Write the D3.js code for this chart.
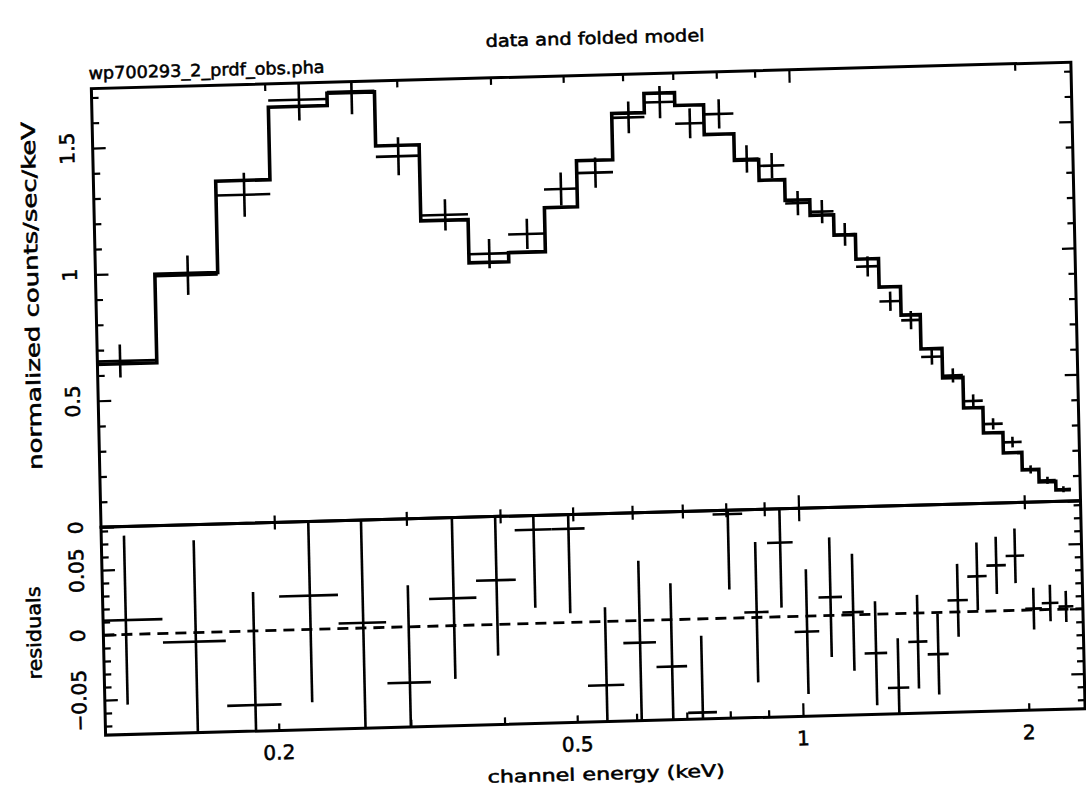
<!DOCTYPE html>
<html>
<head>
<meta charset="utf-8">
<script src="https://cdn.jsdelivr.net/npm/d3@7"></script>
<style>
  body { margin: 0; background: #fff; }
  text { font-family: "DejaVu Sans", sans-serif; fill: #000; stroke: #000; stroke-width: 0.55px; }
</style>
</head>
<body>
<svg width="1086" height="789"></svg>
<script>
// channel bin edges (keV), one more than the number of bins
var chanEdges = [0.111, 0.141, 0.171, 0.202, 0.242, 0.280, 0.320, 0.370, 0.418, 0.468, 0.518,
                 0.579, 0.640, 0.703, 0.768, 0.841, 0.906, 0.980, 1.057, 1.136, 1.213, 1.300,
                 1.388, 1.472, 1.570, 1.671, 1.773, 1.882, 1.992, 2.096, 2.206, 2.309];
// folded model, counts/sec/keV
var modelRate = [0.644, 0.994, 1.356, 1.643, 1.692, 1.478, 1.177, 1.006, 1.042, 1.216, 1.398,
                 1.581, 1.657, 1.606, 1.488, 1.383, 1.301, 1.219, 1.157, 1.076, 0.979, 0.866,
                 0.753, 0.617, 0.500, 0.379, 0.278, 0.197, 0.128, 0.079, 0.045];
// observed data and 1 sigma errors
var dataRate = [0.655, 0.987, 1.299, 1.669, 1.696, 1.435, 1.198, 1.040, 1.114, 1.288, 1.349,
                1.564, 1.621, 1.534, 1.568, 1.387, 1.358, 1.207, 1.171, 1.078, 0.949, 0.809,
                0.732, 0.585, 0.509, 0.406, 0.313, 0.239, 0.129, 0.084, 0.047];
var dataErr = [0.065, 0.078, 0.087, 0.082, 0.090, 0.075, 0.062, 0.058, 0.060, 0.065, 0.060,
               0.063, 0.064, 0.059, 0.058, 0.054, 0.050, 0.048, 0.046, 0.045, 0.040, 0.038,
               0.036, 0.031, 0.028, 0.026, 0.022, 0.021, 0.016, 0.014, 0.012];
// residuals (data - model)
var resid = [0.011, -0.007, -0.057, 0.026, 0.004, -0.043, 0.021, 0.034, 0.072, 0.072, -0.049,
             -0.017, -0.036, -0.072, 0.080, 0.004, 0.057, -0.012, 0.014, 0.002, -0.030, -0.057,
             -0.022, -0.032, 0.009, 0.027, 0.035, 0.042, 0.001, 0.005, 0.002];

// ticks
var xMajor = [1];
var xMinor = [0.2, 0.3, 0.4, 0.5, 0.6, 0.7, 0.8, 0.9, 2];
var xLabels = [0.2, 0.5, 1, 2];
var topMajorY = [0, 0.5, 1, 1.5];
var topMinorY = [0.1, 0.2, 0.3, 0.4, 0.6, 0.7, 0.8, 0.9, 1.1, 1.2, 1.3, 1.4, 1.6, 1.7];
var resMajorY = [-0.05, 0, 0.05];
var resMinorY = [-0.07, -0.06, -0.04, -0.03, -0.02, -0.01, 0.01, 0.02, 0.03, 0.04, 0.06, 0.07, 0.08];

var left = 98.5, right = 1078,
    topY = 75.5, midY = 514, botY = 722;

var x = d3.scaleLog().domain([0.1175, 2.377]).range([left, right]);
var yTop = d3.scaleLinear().domain([0, 1.735]).range([midY, topY]);
var yRes = d3.scaleLinear().domain([-0.077, 0.083]).range([botY, midY]);

var svg = d3.select("svg");
// the original is a slightly skewed scan, so tilt everything a little
var g = svg.append("g").attr("transform", "matrix(1,-0.027,0.022,1,-8.8,15.8)");

var defs = g.append("defs");
defs.append("clipPath").attr("id", "clipTop").append("rect")
    .attr("x", left).attr("y", topY).attr("width", right - left).attr("height", midY - topY);
defs.append("clipPath").attr("id", "clipRes").append("rect")
    .attr("x", left).attr("y", midY).attr("width", right - left).attr("height", botY - midY);

function drawAxis(axisGen, tx, ty) {
    var a = g.append("g")
        .attr("transform", "translate(" + tx + "," + ty + ")")
        .call(axisGen);
    a.select(".domain").remove();
    a.selectAll("text").remove();
    a.selectAll("line").attr("stroke", "#000").attr("stroke-width", 2.2);
}

// ticks, all pointing into the frames
[[topMajorY, 13], [topMinorY, 7]].forEach(function(t) {
    drawAxis(d3.axisLeft(yTop).tickValues(t[0]).tickSize(-t[1]), left, 0);
    drawAxis(d3.axisRight(yTop).tickValues(t[0]).tickSize(-t[1]), right, 0);
});
[[resMajorY, 13], [resMinorY, 7]].forEach(function(t) {
    drawAxis(d3.axisLeft(yRes).tickValues(t[0]).tickSize(-t[1]), left, 0);
    drawAxis(d3.axisRight(yRes).tickValues(t[0]).tickSize(-t[1]), right, 0);
});
[[xMajor, 13], [xMinor, 7]].forEach(function(t) {
    drawAxis(d3.axisTop(x).tickValues(t[0]).tickSize(-t[1]), 0, topY);
    drawAxis(d3.axisBottom(x).tickValues(t[0]).tickSize(-t[1]), 0, midY);
    drawAxis(d3.axisTop(x).tickValues(t[0]).tickSize(-t[1]), 0, midY);
    drawAxis(d3.axisBottom(x).tickValues(t[0]).tickSize(-t[1]), 0, botY);
});

// frames
g.append("rect").attr("x", left).attr("y", topY)
    .attr("width", right - left).attr("height", midY - topY)
    .attr("fill", "none").attr("stroke", "#000").attr("stroke-width", 3);
g.append("rect").attr("x", left).attr("y", midY)
    .attr("width", right - left).attr("height", botY - midY)
    .attr("fill", "none").attr("stroke", "#000").attr("stroke-width", 3);

var bins = modelRate.map(function(m, i) {
    var lo = chanEdges[i], hi = chanEdges[i + 1];
    return {lo: lo, hi: hi, mid: (lo + hi) / 2, model: m,
            data: dataRate[i], err: dataErr[i], res: resid[i]};
});

// top panel: model histogram + data crosses
var topG = g.append("g").attr("clip-path", "url(#clipTop)");
var stepPts = bins.map(function(b) { return [b.lo, b.model]; });
stepPts.push([bins[bins.length - 1].hi, bins[bins.length - 1].model]);
topG.append("path")
    .attr("d", d3.line()
        .x(function(d) { return x(d[0]); })
        .y(function(d) { return yTop(d[1]); })
        .curve(d3.curveStepAfter)(stepPts))
    .attr("fill", "none").attr("stroke", "#000").attr("stroke-width", 3.6);

function crosses(sel, yScale, key) {
    sel.selectAll("line.h").data(bins).enter().append("line")
        .attr("x1", function(d) { return x(d.lo); })
        .attr("x2", function(d) { return x(d.hi); })
        .attr("y1", function(d) { return yScale(d[key]); })
        .attr("y2", function(d) { return yScale(d[key]); })
        .attr("stroke", "#000").attr("stroke-width", 2.6);
    sel.selectAll("line.v").data(bins).enter().append("line")
        .attr("x1", function(d) { return x(d.mid); })
        .attr("x2", function(d) { return x(d.mid); })
        .attr("y1", function(d) { return yScale(d[key] - d.err); })
        .attr("y2", function(d) { return yScale(d[key] + d.err); })
        .attr("stroke", "#000").attr("stroke-width", 2.6);
}
crosses(topG, yTop, "data");

// residual panel
var resG = g.append("g").attr("clip-path", "url(#clipRes)");
resG.append("line")
    .attr("x1", left).attr("x2", right)
    .attr("y1", yRes(0)).attr("y2", yRes(0))
    .attr("stroke", "#000").attr("stroke-width", 2.8)
    .attr("stroke-dasharray", "11,7");
crosses(resG, yRes, "res");

// tick labels
var fmt = d3.format("");
g.selectAll("text.xl").data(xLabels).enter().append("text")
    .attr("x", function(d) { return x(d); })
    .attr("y", 751)
    .attr("text-anchor", "middle")
    .style("font-size", "20px")
    .text(fmt);
g.selectAll("text.yl").data(topMajorY).enter().append("text")
    .attr("transform", function(d) { return "translate(80," + yTop(d) + ") rotate(-90)"; })
    .attr("text-anchor", "middle")
    .style("font-size", "20px")
    .text(fmt);
g.selectAll("text.rl").data(resMajorY).enter().append("text")
    .attr("transform", function(d) { return "translate(80," + yRes(d) + ") rotate(-90)"; })
    .attr("text-anchor", "middle")
    .style("font-size", "20px")
    .text(fmt);

// titles
g.append("text").attr("x", 603).attr("y", 44.5)
    .attr("text-anchor", "middle").style("font-size", "17px")
    .attr("textLength", 219).attr("lengthAdjust", "spacingAndGlyphs")
    .text("data and folded model");
g.append("text").attr("x", 96).attr("y", 66)
    .style("font-size", "17px")
    .attr("textLength", 236).attr("lengthAdjust", "spacingAndGlyphs")
    .text("wp700293_2_prdf_obs.pha");
g.append("text").attr("x", 598).attr("y", 780)
    .attr("text-anchor", "middle").style("font-size", "17px")
    .attr("textLength", 237).attr("lengthAdjust", "spacingAndGlyphs")
    .text("channel energy (keV)");
g.append("text").attr("transform", "translate(41,281) rotate(-90)")
    .attr("text-anchor", "middle").style("font-size", "19px")
    .attr("textLength", 348).attr("lengthAdjust", "spacingAndGlyphs")
    .text("normalized counts/sec/keV");
g.append("text").attr("transform", "translate(36,618) rotate(-90)")
    .attr("text-anchor", "middle").style("font-size", "19px")
    .attr("textLength", 93).attr("lengthAdjust", "spacingAndGlyphs")
    .text("residuals");
</script>
</body>
</html>
